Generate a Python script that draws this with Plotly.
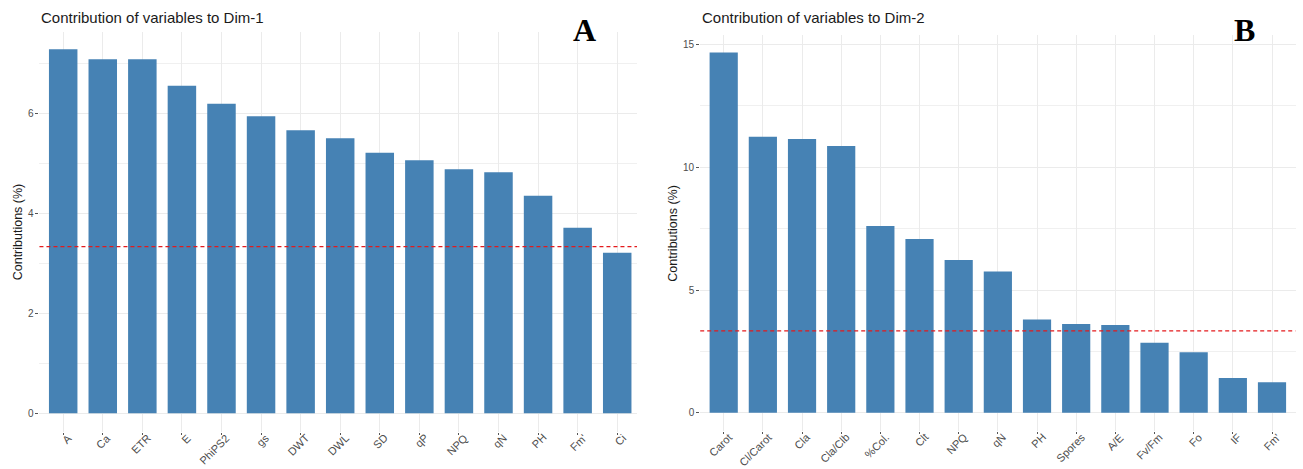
import plotly.graph_objects as go

# ---- data ----
vars_dim1 = ["A", "Ca", "ETR", "E", "PhiPS2", "gs", "DWT", "DWL", "SD", "qP",
             "NPQ", "qN", "PH", "Fm'", "Ci"]
contrib_dim1 = [7.28, 7.08, 7.08, 6.55, 6.19, 5.94, 5.66, 5.50, 5.21, 5.06,
                4.88, 4.82, 4.35, 3.71, 3.21]

vars_dim2 = ["Carot", "Cl/Carot", "Cla", "Cla/Clb", "%Col.", "Clt", "NPQ", "qN",
             "PH", "Spores", "A/E", "Fv/Fm", "Fo", "IF", "Fm'"]
contrib_dim2 = [14.68, 11.25, 11.15, 10.87, 7.61, 7.08, 6.22, 5.76,
                3.80, 3.62, 3.58, 2.85, 2.47, 1.42, 1.24]

n_variables = 30
expected_contrib = 100 / n_variables

titles = ["Contribution of variables to Dim-1", "Contribution of variables to Dim-2"]
panel_letters = ["A", "B"]
y_title = "Contributions (%)"

# ---- layout helpers ----
W, H = 1303, 469
def px_x(p):
    return p / W
def px_y(p):
    return (H - p) / H

BAR = "#4682B4"
GRID = "#ebebeb"
XTICKFONT = dict(family="Liberation Sans, Arial", size=11, color="#4d4d4d")
YTICKFONT = dict(family="Liberation Sans, Arial", size=10, color="#4d4d4d")

fig = go.Figure()
fig.add_trace(go.Bar(x=vars_dim1, y=contrib_dim1, marker=dict(color=BAR, line=dict(width=0)),
                     width=0.72, xaxis="x", yaxis="y", showlegend=False))
fig.add_trace(go.Bar(x=vars_dim2, y=contrib_dim2, marker=dict(color=BAR, line=dict(width=0)),
                     width=0.72, xaxis="x2", yaxis="y2", showlegend=False))

common_x = dict(type="category", showgrid=True, gridcolor=GRID, gridwidth=1,
                ticks="outside", ticklen=2, tickcolor="#555", tickwidth=1,
                showticklabels=False, showline=False, zeroline=False,
                automargin=False)
common_y = dict(showgrid=True, gridcolor=GRID, gridwidth=1, zeroline=False,
                ticks="outside", ticklen=3, tickcolor="#555", tickwidth=1,
                tickfont=YTICKFONT, showline=False, automargin=False)

fig.update_layout(
    width=W, height=H,
    margin=dict(l=0, r=0, t=0, b=0, autoexpand=False),
    paper_bgcolor="white", plot_bgcolor="white",
    bargap=0.28,
    xaxis=dict(common_x, domain=[px_x(39.45), px_x(637)], range=[-0.6, 14.5], anchor="y"),
    yaxis=dict(common_y, domain=[px_y(431.5), px_y(32)], range=[-0.364, 7.626],
               tickvals=[0, 2, 4, 6], anchor="x",
               minor=dict(tickvals=[1, 3, 5, 7], showgrid=True, gridcolor="#f0f0f0",
                          gridwidth=0.7, ticks="")),
    xaxis2=dict(common_x, domain=[px_x(700.2), px_x(1295.5)], range=[-0.6, 14.6], anchor="y2"),
    yaxis2=dict(common_y, domain=[px_y(430.8), px_y(34.5)], range=[-0.733, 15.41],
                tickvals=[0, 5, 10, 15], anchor="x2",
                minor=dict(tickvals=[2.5, 7.5, 12.5], showgrid=True, gridcolor="#f0f0f0",
                           gridwidth=0.7, ticks="")),
)

# rotated category labels (ggplot-style: text end just right of the tick)
for cats, xr, yr in [(vars_dim1, "x", "y domain"), (vars_dim2, "x2", "y2 domain")]:
    for c in cats:
        fig.add_annotation(text=c, x=c, y=0, xref=xr, yref=yr,
                           xanchor="right", yanchor="top", textangle=-45,
                           xshift=12, yshift=1, showarrow=False, borderpad=0,
                           font=XTICKFONT)

# reference dashed lines
for xr, yr in [("x domain", "y"), ("x2 domain", "y2")]:
    fig.add_shape(type="line", xref=xr, yref=yr, x0=0, x1=1,
                  y0=expected_contrib, y1=expected_contrib, layer="above",
                  line=dict(color="#e41a1c", width=1.2, dash="4px,3px"))

# titles
for t, xp in zip(titles, [39.45, 700.2]):
    fig.add_annotation(text=t, x=px_x(xp), y=px_y(18), xref="paper", yref="paper",
                       xanchor="left", yanchor="middle", showarrow=False,
                       font=dict(family="Liberation Sans, Arial", size=15, color="#1a1a1a"))

# y-axis titles
for xp, yp in [(18.3, 232), (672.7, 233)]:
    fig.add_annotation(text=y_title, x=px_x(xp), y=px_y(yp), xref="paper", yref="paper",
                       xanchor="center", yanchor="middle", textangle=-90, showarrow=False,
                       font=dict(family="Liberation Sans, Arial", size=12.5, color="#1a1a1a"))

# panel letters
for letter, xp in zip(panel_letters, [584, 1244]):
    fig.add_annotation(text="<b>%s</b>" % letter, x=px_x(xp), y=px_y(30),
                       xref="paper", yref="paper", xanchor="center", yanchor="middle",
                       showarrow=False,
                       font=dict(family="Liberation Serif, Times New Roman", size=32, color="black"))

fig.write_html("out.html")
